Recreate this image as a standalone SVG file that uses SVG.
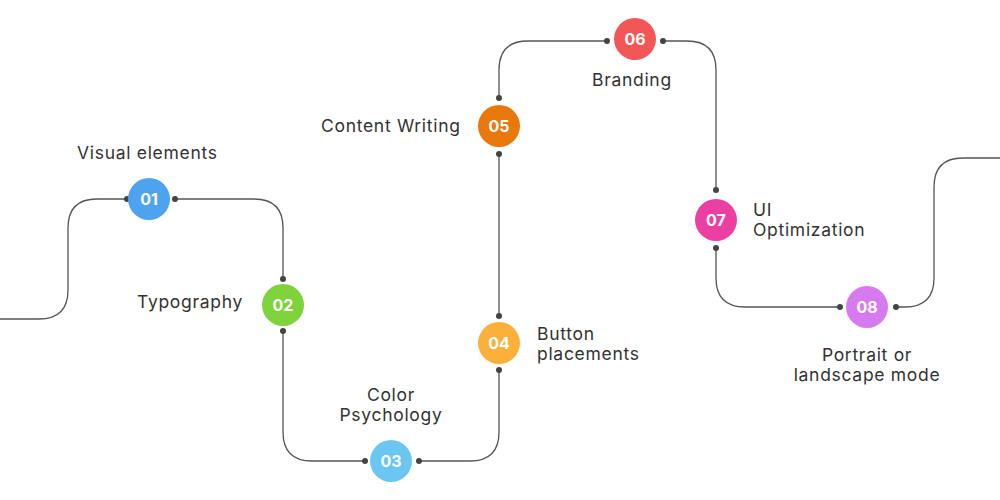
<svg xmlns="http://www.w3.org/2000/svg" width="1000" height="500" viewBox="0 0 1000 500">
<style>
.c{fill:none;stroke:#555;stroke-width:1.3}
.d{fill:#444}
.n{font-family:Inter,"Noto Sans",sans-serif;font-weight:700;font-size:16px;fill:#fff;text-anchor:middle}
.l{font-family:Inter,"Noto Sans",sans-serif;font-size:17.5px;letter-spacing:0.7px;fill:#333}
</style>
<rect width="1000" height="500" fill="#fff"/>
<g id="connectors">
<path class="c" d="M0,319 H39 Q68,319 68,290 V228 Q68,199 97,199 H127"/>
<path class="c" d="M175,199 H254 Q283,199 283,228 V279"/>
<path class="c" d="M283,331 V432 Q283,461 312,461 H365"/>
<path class="c" d="M419,461 H470 Q499,461 499,432 V370"/>
<path class="c" d="M499,316 V154"/>
<path class="c" d="M499,98 V70 Q499,41 528,41 H607"/>
<path class="c" d="M663,41 H687 Q716,41 716,70 V190"/>
<path class="c" d="M716,248 V278 Q716,307 745,307 H840"/>
<path class="c" d="M896,307 H905 Q934,307 934,278 V187 Q934,158 963,158 H1000"/>
<g class="d">
<circle cx="127" cy="199" r="3"/><circle cx="175" cy="199" r="3"/>
<circle cx="283" cy="279" r="3"/><circle cx="283" cy="331" r="3"/>
<circle cx="365" cy="461" r="3"/><circle cx="419" cy="461" r="3"/>
<circle cx="499" cy="370" r="3"/><circle cx="499" cy="316" r="3"/>
<circle cx="499" cy="154" r="3"/><circle cx="499" cy="98" r="3"/>
<circle cx="607" cy="41" r="3"/><circle cx="663" cy="41" r="3"/>
<circle cx="716" cy="190" r="3"/><circle cx="716" cy="248" r="3"/>
<circle cx="840" cy="307" r="3"/><circle cx="896" cy="307" r="3"/>
</g>
</g>
<g id="n01"><circle cx="149" cy="199" r="21" fill="#4da3ef"/><text class="n" x="149" y="205">01</text><text class="l" x="77" y="159">Visual elements</text></g>
<g id="n02"><circle cx="283" cy="305" r="21" fill="#7ed23a"/><text class="n" x="283" y="311">02</text><text class="l" x="137" y="308">Typography</text></g>
<g id="n03"><circle cx="391" cy="461" r="21" fill="#6cc6f2"/><text class="n" x="391" y="467">03</text><text class="l" x="391" y="401" text-anchor="middle">Color</text><text class="l" x="391" y="421" text-anchor="middle">Psychology</text></g>
<g id="n04"><circle cx="499" cy="343" r="21" fill="#fbb03b"/><text class="n" x="499" y="349">04</text><text class="l" x="537" y="340">Button</text><text class="l" x="537" y="360">placements</text></g>
<g id="n05"><circle cx="499" cy="126" r="21" fill="#e8780c"/><text class="n" x="499" y="132">05</text><text class="l" x="321" y="132">Content Writing</text></g>
<g id="n06"><circle cx="635" cy="39" r="21" fill="#f25656"/><text class="n" x="635" y="45">06</text><text class="l" x="592" y="86">Branding</text></g>
<g id="n07"><circle cx="716" cy="220" r="21" fill="#ec3fa4"/><text class="n" x="716" y="226">07</text><text class="l" x="753" y="216">UI</text><text class="l" x="753" y="236">Optimization</text></g>
<g id="n08"><circle cx="867" cy="307" r="21" fill="#d77af0"/><text class="n" x="867" y="313">08</text><text class="l" x="867" y="361" text-anchor="middle">Portrait or</text><text class="l" x="867" y="381" text-anchor="middle">landscape mode</text></g>
</svg>
